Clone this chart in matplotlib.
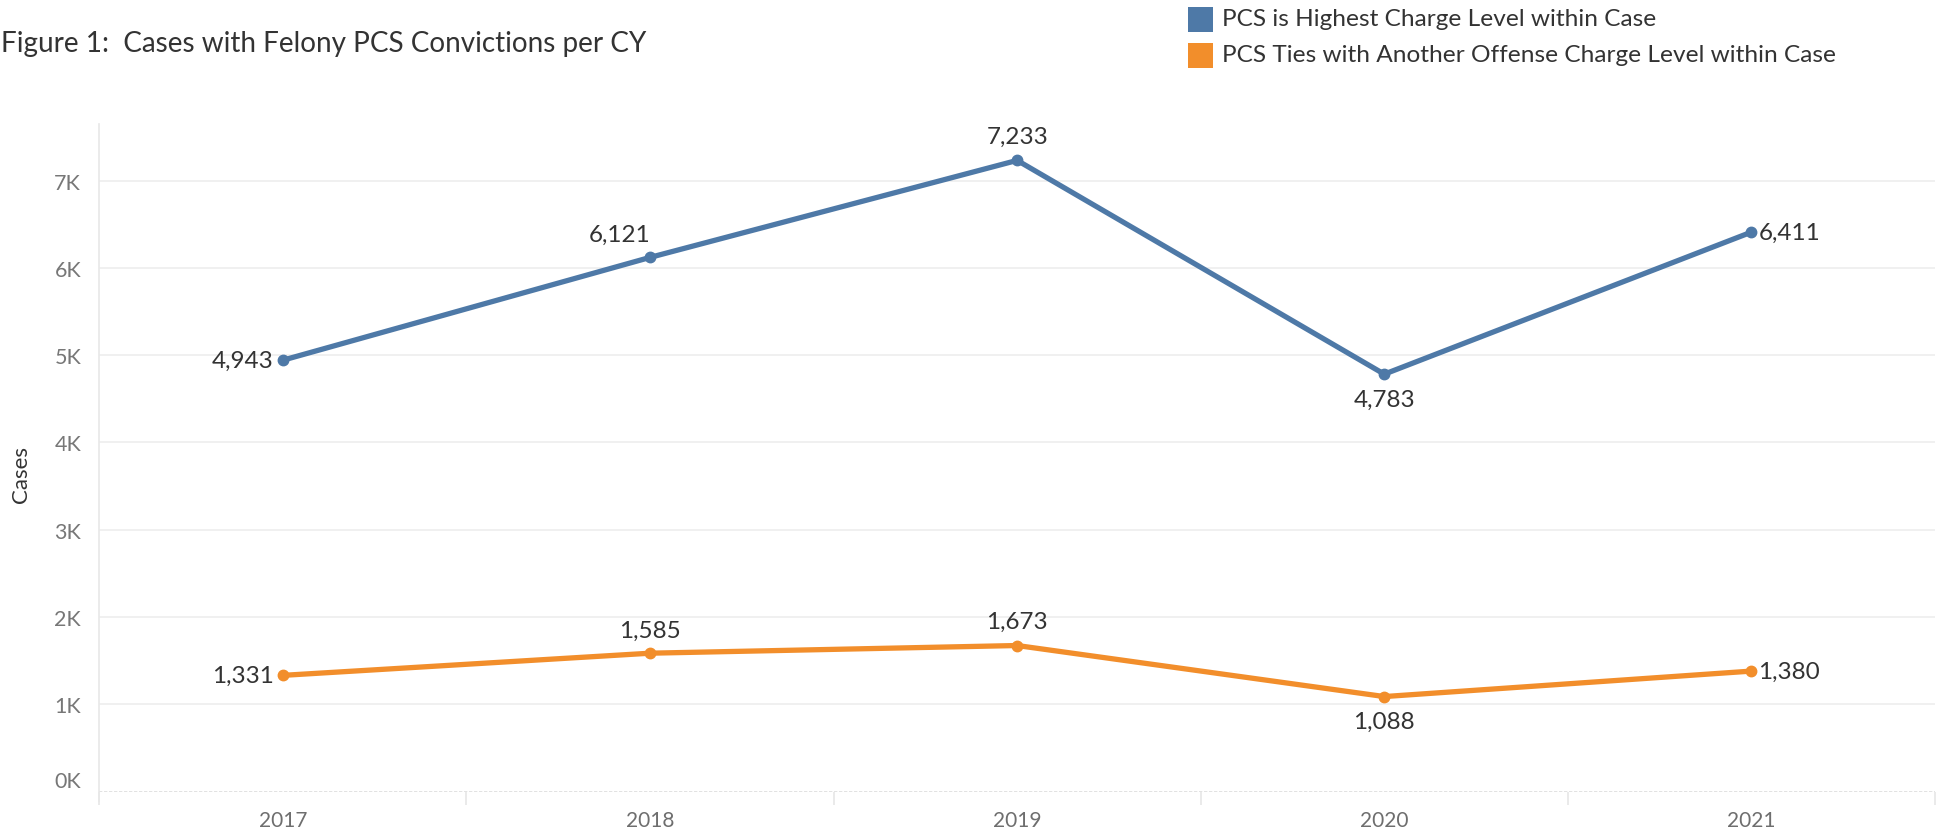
import matplotlib
matplotlib.use("Agg")
import matplotlib.pyplot as plt
import matplotlib.transforms as mtransforms
from matplotlib.lines import Line2D
from matplotlib.patches import Rectangle

years = [2017, 2018, 2019, 2020, 2021]
highest = [4943, 6121, 7233, 4783, 6411]
ties = [1331, 1585, 1673, 1088, 1380]
series_names = ["PCS is Highest Charge Level within Case",
                "PCS Ties with Another Offense Charge Level within Case"]
yticks = [0, 1000, 2000, 3000, 4000, 5000, 6000, 7000]
ytick_labels = ["0K", "1K", "2K", "3K", "4K", "5K", "6K", "7K"]
title = "Figure 1:  Cases with Felony PCS Convictions per CY"
ylabel = "Cases"

BLUE = "#4E79A7"
ORANGE = "#F28E2B"
FONT = "Lato"

# label placement: (ha, va, dx, dy) in pixels
blue_pos = [("right", "center", -9, 0), ("right", "center", 0, 23), ("center", "center", 0, 24),
            ("center", "center", 0, -25), ("left", "center", 7, 0)]
orange_pos = [("right", "center", -9, 0), ("center", "center", 0, 23), ("center", "center", 0, 24),
              ("center", "center", 0, -25), ("left", "center", 7, 0)]

fig = plt.figure(figsize=(19.44, 8.28), dpi=100)
ax = fig.add_axes([99.3 / 1944, 1 - 792.5 / 828, (1935 - 99.3) / 1944, (792.5 - 125) / 828])
ax.set_xlim(2016.5, 2021.5)
ax.set_ylim(0, 7650)

for s in ax.spines.values():
    s.set_visible(False)

# gridlines
for v in yticks[1:]:
    ax.axhline(v, color="#eeeeee", lw=1.2, zorder=0)
ax.axhline(0, color="#dddddd", lw=1.2, ls=(0, (2, 1)), zorder=0)
ax.add_line(Line2D([0, 0], [-0.014, 1], transform=ax.transAxes, color="#e8e8e8", lw=1.2, clip_on=False))

for vals, col, pos in [(highest, BLUE, blue_pos), (ties, ORANGE, orange_pos)]:
    ax.plot(years, vals, color=col, lw=3.8, marker="o", ms=7.5, solid_capstyle="round", zorder=3)
    for x, y, (ha, va, dx, dy) in zip(years, vals, pos):
        ax.annotate(f"{y:,}", (x, y), xytext=(dx, dy), textcoords="offset pixels",
                    ha=ha, va=va, fontsize=17.5, color="#333333", family=FONT, zorder=4)

ax.set_yticks(yticks)
ax.set_yticklabels(ytick_labels, family=FONT, fontsize=15.5, color="#777777")
ax.tick_params(axis="y", length=0, pad=13)
# Zero label sits slightly above its line, as in the reference
zero_lbl = ax.get_yticklabels()[0]
zero_lbl.set_transform(zero_lbl.get_transform() + mtransforms.ScaledTranslation(0, 12 / 100, fig.dpi_scale_trans))

ax.set_xticks(years)
ax.set_xticklabels([str(y) for y in years], family=FONT, fontsize=15, color="#6e6e6e")
ax.tick_params(axis="x", which="major", length=0, pad=13)
ax.set_xticks([2016.5, 2017.5, 2018.5, 2019.5, 2020.5, 2021.5], minor=True)
ax.tick_params(axis="x", which="minor", length=9, color="#e6e6e6", width=1.2, direction="out")

fig.text(21 / 1944, 1 - 475 / 828, ylabel, rotation=90, ha="center", va="center",
         family=FONT, fontsize=16, color="#333333")

fig.text(1 / 1944, 1 - 44 / 828, title, ha="left", va="center", family=FONT,
         fontsize=20.1, color="#333333")

# legend
for i, (name, col) in enumerate(zip(series_names, [BLUE, ORANGE])):
    yc = 20 + 36 * i
    fig.patches.append(Rectangle((1188 / 1944, 1 - (yc + 12.5) / 828), 25 / 1944, 25 / 828,
                                 transform=fig.transFigure, facecolor=col, edgecolor="none"))
    fig.text(1222 / 1944, 1 - yc / 828, name, ha="left", va="center", family=FONT,
             fontsize=17.6, color="#333333")

fig.savefig("out.png", dpi=100, facecolor="white")
